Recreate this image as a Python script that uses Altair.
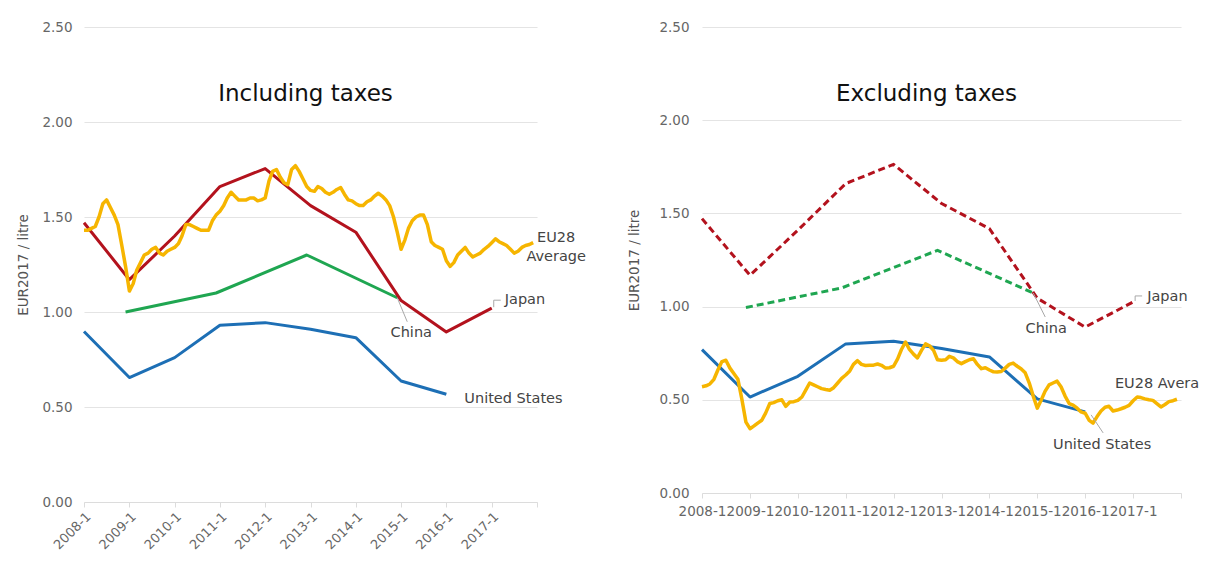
import altair as alt
import pandas as pd

FONT = "DejaVu Sans"

# ---------------- data ----------------
months = [d.strftime("%Y-%m-01T00:00:00") for d in pd.date_range("2008-01-01", periods=120, freq="MS")]
jan_dates = [f"{y}-01-01T00:00:00" for y in range(2008, 2018)]
us_dates = [f"{y}-01-01T00:00:00" for y in range(2008, 2017)]
china_dates = ["2008-12-01T00:00:00", "2010-12-01T00:00:00", "2012-12-01T00:00:00", "2014-12-01T00:00:00"]

# Including taxes (EUR2017 / litre)
eu_incl = [1.43, 1.43, 1.44, 1.45, 1.50, 1.57, 1.59, 1.55, 1.51, 1.46, 1.35, 1.24,
           1.11, 1.15, 1.22, 1.26, 1.30, 1.31, 1.33, 1.34, 1.31, 1.30, 1.32, 1.33,
           1.34, 1.36, 1.40, 1.46, 1.46, 1.45, 1.44, 1.43, 1.43, 1.43, 1.48, 1.51,
           1.53, 1.56, 1.60, 1.63, 1.61, 1.59, 1.59, 1.59, 1.60, 1.60, 1.585, 1.59,
           1.60, 1.69, 1.74, 1.75, 1.71, 1.68, 1.67, 1.75, 1.77, 1.74, 1.70, 1.66,
           1.64, 1.635, 1.66, 1.65, 1.63, 1.62, 1.63, 1.645, 1.655, 1.62, 1.59, 1.585,
           1.57, 1.56, 1.56, 1.58, 1.59, 1.61, 1.625, 1.61, 1.59, 1.56, 1.50, 1.42,
           1.33, 1.38, 1.44, 1.48, 1.50, 1.51, 1.51, 1.46, 1.37, 1.35, 1.34, 1.33,
           1.27, 1.24, 1.26, 1.30, 1.32, 1.34, 1.31, 1.29, 1.30, 1.31, 1.33, 1.345,
           1.365, 1.385, 1.37, 1.36, 1.35, 1.33, 1.31, 1.32, 1.34, 1.35, 1.355, 1.365]
japan_incl = [1.47, 1.17, 1.40, 1.66, 1.755, 1.56, 1.42, 1.06, 0.895, 1.02]
china_incl = [1.00, 1.10, 1.30, 1.075]
us_incl = [0.897, 0.655, 0.76, 0.93, 0.944, 0.909, 0.865, 0.637, 0.567]

# Excluding taxes (EUR2017 / litre)
eu_excl = [0.57, 0.575, 0.585, 0.61, 0.66, 0.705, 0.712, 0.67, 0.64, 0.61, 0.50, 0.38,
           0.345, 0.36, 0.375, 0.39, 0.43, 0.48, 0.485, 0.495, 0.50, 0.465, 0.488, 0.49,
           0.497, 0.515, 0.55, 0.59, 0.58, 0.57, 0.56, 0.555, 0.551, 0.565, 0.59, 0.615,
           0.633, 0.655, 0.69, 0.71, 0.69, 0.684, 0.685, 0.686, 0.692, 0.685, 0.67, 0.672,
           0.68, 0.72, 0.77, 0.81, 0.77, 0.745, 0.725, 0.765, 0.80, 0.79, 0.765, 0.715,
           0.712, 0.715, 0.733, 0.725, 0.705, 0.694, 0.705, 0.715, 0.72, 0.69, 0.667, 0.672,
           0.66, 0.65, 0.649, 0.652, 0.67, 0.69, 0.697, 0.68, 0.665, 0.645, 0.59, 0.52,
           0.455, 0.50, 0.545, 0.58, 0.59, 0.60, 0.57, 0.52, 0.48, 0.472, 0.455, 0.435,
           0.428, 0.39, 0.375, 0.41, 0.44, 0.46, 0.465, 0.44, 0.445, 0.452, 0.46, 0.47,
           0.495, 0.515, 0.512, 0.505, 0.50, 0.497, 0.48, 0.462, 0.475, 0.49, 0.495, 0.503]
japan_excl = [1.472, 1.168, 1.41, 1.66, 1.763, 1.553, 1.418, 1.045, 0.89, 1.025]
china_excl = [0.995, 1.10, 1.302, 1.073]
us_excl = [0.769, 0.515, 0.626, 0.80, 0.814, 0.775, 0.73, 0.505, 0.435]

y_ticks = [0, 0.5, 1.0, 1.5, 2.0, 2.5]

# ---------------- styling ----------------
C_JAPAN = "#b3121d"
C_CHINA = "#1fa651"
C_US = "#1d6fb5"
C_EU = "#f6b500"
LABEL_C = "#444444"
GRID_C = "#e4e4e4"

x_values = [alt.DateTime(year=y, month=1, date=1) for y in range(2008, 2019)]
x_scale = alt.Scale(domain=[alt.DateTime(year=2008, month=1, date=1),
                            alt.DateTime(year=2018, month=1, date=1)], nice=False)
y_scale = alt.Scale(domain=[0, 2.5], nice=False)
label_expr = "year(datum.value) >= 2018 ? '' : timeFormat(datum.value, '%Y-%-m')"


def make_axes(rotated, lab_pad, title_pad):
    if rotated:
        xa = alt.Axis(values=x_values, labelExpr=label_expr, labelAngle=315,
                      labelAlign="right", labelBaseline="top", labelPadding=3,
                      labelFont=FONT, labelFontSize=13, labelColor="#666",
                      labelOverlap=False, grid=False, domainColor="#dcdcdc",
                      tickColor="#dcdcdc", tickSize=5, title=None)
    else:
        xa = alt.Axis(values=x_values, labelExpr=label_expr, labelAngle=0,
                      labelAlign="center", labelBaseline="top", labelPadding=6,
                      labelFont=FONT, labelFontSize=13.5, labelColor="#666",
                      labelOverlap=False, labelFlush=False, grid=False,
                      domainColor="#dcdcdc", tickColor="#dcdcdc", tickSize=5, title=None)
    ya = alt.Axis(values=y_ticks, format=".2f", labelFont=FONT, labelFontSize=13.5,
                  labelColor="#666", labelPadding=lab_pad, ticks=False, domain=False,
                  grid=True, gridColor=GRID_C, gridWidth=1.2,
                  title="EUR2017 / litre", titleFont=FONT, titleFontSize=13.5,
                  titleFontWeight="normal", titleColor="#555", titlePadding=title_pad)
    return xa, ya


def line(dates, values, color, width, xa, ya, dash=None):
    df = pd.DataFrame({"date": dates, "value": values})
    kw = dict(color=color, strokeWidth=width, strokeJoin="round", strokeCap="butt")
    if dash:
        kw["strokeDash"] = dash
    return alt.Chart(df).mark_line(**kw).encode(
        x=alt.X("date:T", scale=x_scale, axis=xa),
        y=alt.Y("value:Q", scale=y_scale, axis=ya),
    )


def label(date, value, text, dx, dy, xa, ya, align="left", size=14.5, limit=0):
    df = pd.DataFrame({"date": [date], "value": [value], "label": [text]})
    kw = dict(align=align, baseline="middle", dx=dx, dy=dy, font=FONT, fontSize=size,
              color=LABEL_C, lineBreak="\n", lineHeight=19)
    if limit:
        kw["limit"] = limit
        kw["ellipsis"] = "\u200b"
    return alt.Chart(df).mark_text(**kw).encode(
        x=alt.X("date:T", scale=x_scale, axis=xa),
        y=alt.Y("value:Q", scale=y_scale, axis=ya), text="label:N")


def leader(date, value, xo, yo, x2o, y2o, xa, ya):
    df = pd.DataFrame({"date": [date], "value": [value]})
    return alt.Chart(df).mark_rule(
        color="#a8a8a8", strokeWidth=1, xOffset=xo, yOffset=yo, x2Offset=x2o, y2Offset=y2o
    ).encode(
        x=alt.X("date:T", scale=x_scale, axis=xa), y=alt.Y("value:Q", scale=y_scale, axis=ya),
        x2=alt.X2("date:T"), y2=alt.Y2("value:Q"),
    )


def title(text, dx):
    return alt.TitleParams(text, font=FONT, fontSize=23, fontWeight="normal", color="#111",
                           anchor="middle", frame="group", baseline="middle",
                           offset=0, dx=dx, dy=97)


# ---------------- left panel: including taxes ----------------
xa_l, ya_l = make_axes(True, 12, 11)
left = alt.layer(
    line(us_dates, us_incl, C_US, 3, xa_l, ya_l),
    line(china_dates, china_incl, C_CHINA, 3, xa_l, ya_l),
    line(jan_dates, japan_incl, C_JAPAN, 3, xa_l, ya_l),
    line(months, eu_incl, C_EU, 3.5, xa_l, ya_l),
    leader(china_dates[-1], china_incl[-1], 0, 0, 10, 24, xa_l, ya_l),
    leader(jan_dates[-1], japan_incl[-1], 2, -1, 2, -8, xa_l, ya_l),
    leader(jan_dates[-1], japan_incl[-1], 2, -8, 9, -8, xa_l, ya_l),
    label(months[-1], eu_incl[-1], "EU28\nAverage", 23, -5, xa_l, ya_l, align="center"),
    label(jan_dates[-1], japan_incl[-1], "Japan", 13, -8, xa_l, ya_l),
    label(china_dates[-1], china_incl[-1], "China", 14, 35, xa_l, ya_l, align="center"),
    label(us_dates[-1], us_incl[-1], "United States", 18, 5, xa_l, ya_l),
).properties(width=453, height=475, title=title("Including taxes", -5))

# ---------------- right panel: excluding taxes ----------------
xa_r, ya_r = make_axes(False, 13, 17)
right = alt.layer(
    line(us_dates, us_excl, C_US, 3, xa_r, ya_r),
    line(china_dates, china_excl, C_CHINA, 3, xa_r, ya_r, dash=[7, 4]),
    line(jan_dates, japan_excl, C_JAPAN, 3, xa_r, ya_r, dash=[7, 4]),
    line(months, eu_excl, C_EU, 3.5, xa_r, ya_r),
    leader(china_dates[-1], china_excl[-1], 0, 0, 12, 24, xa_r, ya_r),
    leader(us_dates[-1], us_excl[-1], 6, 3, 18, 21, xa_r, ya_r),
    leader(jan_dates[-1], japan_excl[-1], 2, -1, 2, -6, xa_r, ya_r),
    leader(jan_dates[-1], japan_excl[-1], 2, -6, 9, -6, xa_r, ya_r),
    label(jan_dates[-1], japan_excl[-1], "Japan", 14, -5, xa_r, ya_r),
    label(china_dates[-1], china_excl[-1], "China", 13, 36, xa_r, ya_r, align="center"),
    label(months[-1], eu_excl[-1], "EU28 Average", -62, -15, xa_r, ya_r, limit=88),
    label(us_dates[-1], us_excl[-1], "United States", 17, 33, xa_r, ya_r, align="center"),
).properties(width=479, height=466, title=title("Excluding taxes", -15))

chart = alt.hconcat(left, right, spacing=165, bounds="flush").properties(
    padding={"left": 8, "top": 12, "right": 0, "bottom": 0},
    background="white",
).configure_view(strokeWidth=0, stroke=None)

chart.save("out.html", embed_options={"renderer": "svg", "actions": False})
